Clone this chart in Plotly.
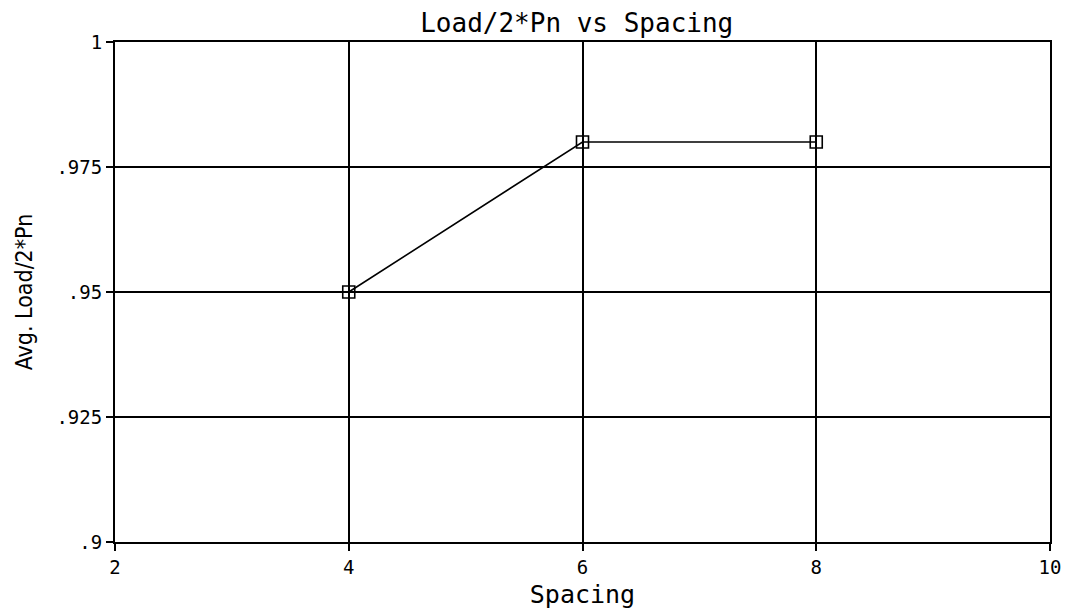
import plotly.graph_objects as go

# Average load ratio measured at each spacing
spacing = [4, 6, 8]
avg_load_ratio = [0.95, 0.98, 0.98]

x_ticks = [2, 4, 6, 8, 10]
x_tick_text = ["2", "4", "6", "8", "10"]
y_ticks = [0.9, 0.925, 0.95, 0.975, 1.0]
y_tick_text = [".9", ".925", ".95", ".975", "1"]

fig = go.Figure()
fig.add_trace(go.Scatter(
    x=spacing,
    y=avg_load_ratio,
    mode="lines+markers",
    line=dict(color="black", width=1.6),
    marker=dict(symbol="square-open", size=12, color="black",
                line=dict(width=1.6, color="black")),
    showlegend=False,
))

axis_common = dict(
    showline=True, linecolor="black", linewidth=2, mirror=True,
    showgrid=True, gridcolor="black", gridwidth=1.5,
    ticks="outside", ticklen=7, tickcolor="black", tickwidth=1.5,
    zeroline=False, automargin=False,
    tickfont=dict(family="DejaVu Sans Mono, monospace", size=19, color="black"),
)

fig.update_xaxes(
    range=[2, 10], tickvals=x_ticks, ticktext=x_tick_text,
    title=dict(text="Spacing", standoff=12,
               font=dict(family="DejaVu Sans Mono, monospace", size=25, color="black")),
    **axis_common,
)
fig.update_yaxes(
    range=[0.9, 1.0], tickvals=y_ticks, ticktext=y_tick_text,
    title=dict(text="Avg. Load/2*Pn", standoff=17,
               font=dict(family="DejaVu Sans Condensed, Liberation Sans Narrow, sans-serif",
                         size=23, color="black")),
    **axis_common,
)

fig.update_layout(
    width=1067, height=609,
    paper_bgcolor="white", plot_bgcolor="white",
    margin=dict(l=115, r=17, t=42, b=67),
    title=dict(text="Load/2*Pn vs Spacing", x=0.5405, xanchor="center",
               y=0.962, yanchor="middle", automargin=False,
               font=dict(family="DejaVu Sans Mono, monospace", size=26, color="black")),
)

fig.write_html("out.html")
